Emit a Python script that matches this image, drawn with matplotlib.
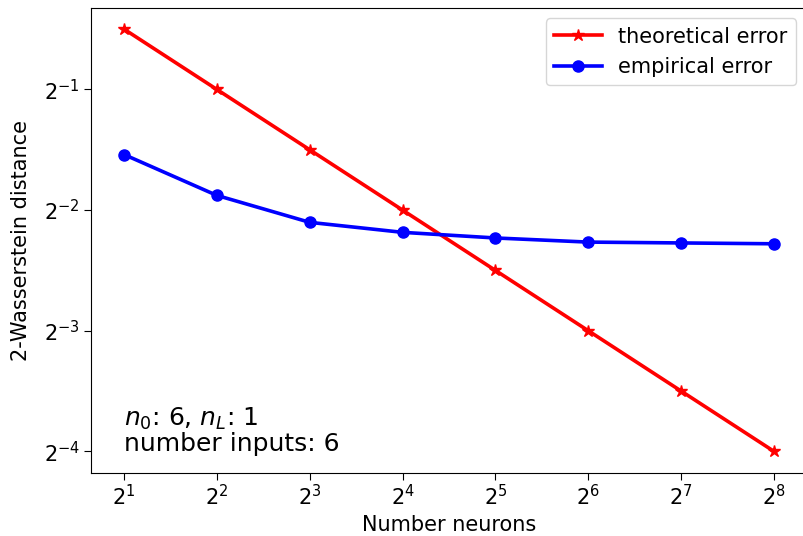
import matplotlib
matplotlib.use("Agg")
import matplotlib.pyplot as plt
import numpy as np

neurons = [2, 4, 8, 16, 32, 64, 128, 256]
theoretical = [2**-0.5, 2**-1, 2**-1.5, 2**-2, 2**-2.5, 2**-3, 2**-3.5, 2**-4]
empirical = [0.344, 0.272, 0.233, 0.220, 0.213, 0.208, 0.207, 0.206]

fig = plt.figure(figsize=(8.04, 5.36), dpi=100)
ax = fig.add_axes([91.5/804, 1-472.5/536, (806.5-91.5)/804, (472.5-8)/536])
ax.plot(neurons, theoretical, color='red', marker='*', lw=2.6, ms=9, label='theoretical error')
ax.plot(neurons, empirical, color='blue', marker='o', lw=2.6, ms=8, label='empirical error')
ax.set_xscale('log', base=2)
ax.set_yscale('log', base=2)
ax.set_xlabel('Number neurons', fontsize=15)
ax.set_ylabel('2-Wasserstein distance', fontsize=15)
ax.tick_params(labelsize=15, length=5)
ax.yaxis.set_label_coords((31 - 91.5) / 715, 0.5)
ax.legend(fontsize=15, loc='upper right', handlelength=2.3)
ax.text(0.045, 0.035, '$n_0$: 6, $n_L$: 1\nnumber inputs: 6', transform=ax.transAxes,
        fontsize=18, va='bottom', ha='left', linespacing=1.0)
fig.savefig('out.png', dpi=100)
